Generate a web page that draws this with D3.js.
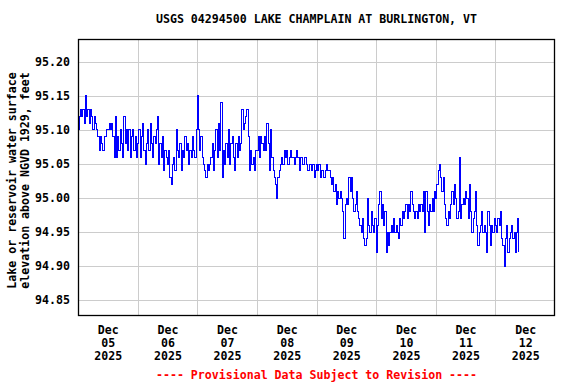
<!DOCTYPE html>
<html>
<head>
<meta charset="utf-8">
<script src="https://cdn.jsdelivr.net/npm/d3@7"></script>
<style>
  body { margin: 0; background: #fff; }
  svg text { font-family: "DejaVu Sans Mono", "Liberation Mono", monospace; font-weight: bold; }
</style>
</head>
<body>
<div id="chart"></div>
<script>
// 30-minute readings, one array per day (feet above NGVD 1929)
var dec05 = [95.10, 95.12, 95.13, 95.12, 95.13, 95.11, 95.15, 95.12, 95.13, 95.11, 95.13, 95.12,
  95.10, 95.12, 95.11, 95.10, 95.09, 95.07, 95.09, 95.08, 95.07, 95.09, 95.09, 95.10,
  95.10, 95.11, 95.10, 95.11, 95.09, 95.06, 95.12, 95.06, 95.09, 95.07, 95.10, 95.08,
  95.06, 95.12, 95.08, 95.10, 95.07, 95.10, 95.06, 95.09, 95.10, 95.07, 95.09, 95.06];
var dec06 = [95.08, 95.10, 95.06, 95.09, 95.11, 95.07, 95.05, 95.08, 95.10, 95.07, 95.11, 95.08,
  95.06, 95.09, 95.08, 95.10, 95.12, 95.05, 95.08, 95.06, 95.09, 95.04, 95.07, 95.06,
  95.05, 95.07, 95.03, 95.02, 95.05, 95.06, 95.04, 95.10, 95.07, 95.06, 95.08, 95.04,
  95.07, 95.06, 95.09, 95.07, 95.08, 95.05, 95.07, 95.06, 95.09, 95.07, 95.06, 95.10];
var dec07 = [95.15, 95.10, 95.07, 95.09, 95.06, 95.05, 95.04, 95.03, 95.05, 95.04, 95.05, 95.06,
  95.08, 95.04, 95.07, 95.10, 95.06, 95.11, 95.07, 95.14, 95.03, 95.07, 95.05, 95.08,
  95.06, 95.10, 95.05, 95.08, 95.09, 95.06, 95.04, 95.08, 95.06, 95.09, 95.07, 95.08,
  95.13, 95.10, 95.11, 95.12, 95.13, 95.09, 95.04, 95.07, 95.05, 95.06, 95.04, 95.07];
var dec08 = [95.07, 95.09, 95.06, 95.09, 95.08, 95.07, 95.09, 95.07, 95.11, 95.08, 95.04, 95.10,
  95.06, 95.04, 95.03, 95.02, 95.00, 95.03, 95.04, 95.05, 95.06, 95.05, 95.07, 95.06,
  95.07, 95.05, 95.06, 95.07, 95.06, 95.06, 95.05, 95.06, 95.07, 95.06, 95.04, 95.06,
  95.06, 95.05, 95.06, 95.06, 95.05, 95.04, 95.05, 95.05, 95.04, 95.05, 95.03, 95.04];
var dec09 = [95.05, 95.04, 95.05, 95.03, 95.04, 95.04, 95.03, 95.04, 95.05, 95.04, 95.04, 95.03,
  95.02, 95.03, 95.01, 95.02, 94.99, 95.01, 95.00, 95.01, 95.00, 94.98, 94.94, 94.99,
  95.00, 94.99, 95.03, 95.01, 95.03, 95.00, 94.98, 94.99, 95.01, 94.98, 94.97, 94.96,
  94.95, 94.97, 94.94, 94.93, 94.94, 95.00, 94.96, 94.95, 94.98, 94.96, 94.95, 94.97];
var dec10 = [94.92, 94.96, 94.99, 95.01, 94.97, 94.99, 94.96, 94.98, 94.92, 94.95, 94.93, 94.95,
  94.96, 94.95, 94.97, 94.95, 94.96, 94.95, 94.94, 94.97, 94.96, 94.98, 94.97, 94.98,
  94.99, 94.97, 94.99, 94.98, 95.01, 94.99, 94.98, 94.97, 94.98, 94.97, 94.99, 94.98,
  94.99, 94.98, 95.01, 94.95, 95.01, 94.98, 94.96, 94.99, 94.98, 95.00, 94.98, 95.01];
var dec11 = [95.00, 95.02, 95.04, 95.05, 95.03, 95.01, 95.03, 94.99, 94.97, 94.96, 94.98, 94.97,
  94.99, 95.01, 94.99, 95.02, 95.00, 94.97, 94.98, 95.06, 94.97, 94.99, 95.00, 94.99,
  95.01, 95.00, 94.97, 95.02, 94.98, 94.95, 94.97, 94.98, 95.01, 94.96, 94.93, 94.95,
  94.96, 94.98, 94.95, 94.96, 94.95, 94.92, 94.98, 94.96, 94.93, 94.96, 94.95, 94.97];
var dec12 = [94.96, 94.95, 94.97, 94.96, 94.98, 94.94, 94.93, 94.90, 94.94, 94.96, 94.92, 94.94,
  94.95, 94.96, 94.94, 94.95, 94.92, 94.95, 94.97, 94.92];

var dayStarts = ['2025-12-05', '2025-12-06', '2025-12-07', '2025-12-08',
  '2025-12-09', '2025-12-10', '2025-12-11', '2025-12-12'];
var dayLabels = ['05', '06', '07', '08', '09', '10', '11', '12'];
var yTicks = [94.85, 94.90, 94.95, 95.00, 95.05, 95.10, 95.15, 95.20];

var title = 'USGS 04294500 LAKE CHAMPLAIN AT BURLINGTON, VT';
var yTitle = ['Lake or reservoir water surface', 'elevation above NGVD 1929, feet'];
var footer = '---- Provisional Data Subject to Revision ----';

var width = 576, height = 384;
var margin = { top: 39, right: 21, bottom: 68, left: 78 };
var fs = '11.6px';

var days = [dec05, dec06, dec07, dec08, dec09, dec10, dec11, dec12];
var data = [];
days.forEach(function (vals, i) {
  var t0 = new Date(dayStarts[i] + 'T00:00:00Z');
  vals.forEach(function (v, j) {
    data.push({ t: new Date(t0.getTime() + j * 30 * 60000), v: v });
  });
});

var x = d3.scaleUtc()
  .domain([new Date('2025-12-05T00:00:00Z'), new Date('2025-12-13T00:00:00Z')])
  .range([margin.left, width - margin.right]);
var y = d3.scaleLinear()
  .domain([94.8265, 95.2338])
  .range([height - margin.bottom, margin.top]);

var svg = d3.select('#chart').append('svg')
  .attr('width', width)
  .attr('height', height);

// grid
var midnights = dayStarts.slice(1).map(function (d) { return new Date(d + 'T00:00:00Z'); });
svg.append('g')
  .selectAll('line.v')
  .data(midnights)
  .enter().append('line')
  .attr('x1', function (d) { return Math.round(x(d)) + 0.5; })
  .attr('x2', function (d) { return Math.round(x(d)) + 0.5; })
  .attr('y1', margin.top)
  .attr('y2', height - margin.bottom)
  .attr('stroke', '#cccccc');
svg.append('g')
  .selectAll('line.h')
  .data(yTicks)
  .enter().append('line')
  .attr('x1', margin.left)
  .attr('x2', width - margin.right)
  .attr('y1', function (d) { return Math.round(y(d)) + 0.5; })
  .attr('y2', function (d) { return Math.round(y(d)) + 0.5; })
  .attr('stroke', '#cccccc');

// data line
var line = d3.line()
  .curve(d3.curveStepAfter)
  .x(function (d) { return x(d.t); })
  .y(function (d) { return y(d.v); });
svg.append('path')
  .datum(data)
  .attr('fill', 'none')
  .attr('stroke', '#0000ff')
  .attr('stroke-width', 1)
  .attr('shape-rendering', 'crispEdges')
  .attr('d', line);

// frame
svg.append('rect')
  .attr('x', margin.left + 0.5)
  .attr('y', margin.top + 0.5)
  .attr('width', width - margin.left - margin.right - 1)
  .attr('height', height - margin.top - margin.bottom - 1)
  .attr('fill', 'none')
  .attr('stroke', '#000')
  .attr('stroke-width', 1.3);

// y axis labels
var yAxis = svg.append('g')
  .attr('transform', 'translate(' + margin.left + ',0)')
  .call(d3.axisLeft(y).tickValues(yTicks).tickFormat(d3.format('.2f')).tickSize(0).tickPadding(8));
yAxis.select('.domain').remove();
yAxis.selectAll('text')
  .attr('font-family', null)
  .style('font-size', fs)
  .attr('fill', '#000');

// x axis labels (noon of each day)
var noons = dayStarts.map(function (d) { return new Date(d + 'T12:00:00Z'); });
var xAxis = svg.append('g')
  .attr('transform', 'translate(0,' + (height - margin.bottom) + ')')
  .call(d3.axisBottom(x).tickValues(noons).tickSize(0).tickFormat(''));
xAxis.select('.domain').remove();
xAxis.selectAll('.tick').each(function (d, i) {
  var t = d3.select(this).append('text')
    .attr('text-anchor', 'middle')
    .attr('fill', '#000')
    .style('font-size', fs);
  ['Dec', dayLabels[i], '2025'].forEach(function (s, k) {
    t.append('tspan').attr('x', 0).attr('y', 18 + k * 13).text(s);
  });
});

// titles
svg.append('text')
  .attr('x', (margin.left + width - margin.right) / 2)
  .attr('y', 23)
  .attr('text-anchor', 'middle')
  .style('font-size', fs)
  .text(title);

var cy = (margin.top + height - margin.bottom) / 2 + 3;
yTitle.forEach(function (s, k) {
  svg.append('text')
    .attr('transform', 'translate(' + (16 + k * 13) + ',' + cy + ') rotate(-90)')
    .attr('text-anchor', 'middle')
    .style('font-size', fs)
    .text(s);
});

svg.append('text')
  .attr('x', (margin.left + width - margin.right) / 2)
  .attr('y', 379)
  .attr('text-anchor', 'middle')
  .attr('fill', '#ff0000')
  .style('font-size', fs)
  .text(footer);
</script>
</body>
</html>
